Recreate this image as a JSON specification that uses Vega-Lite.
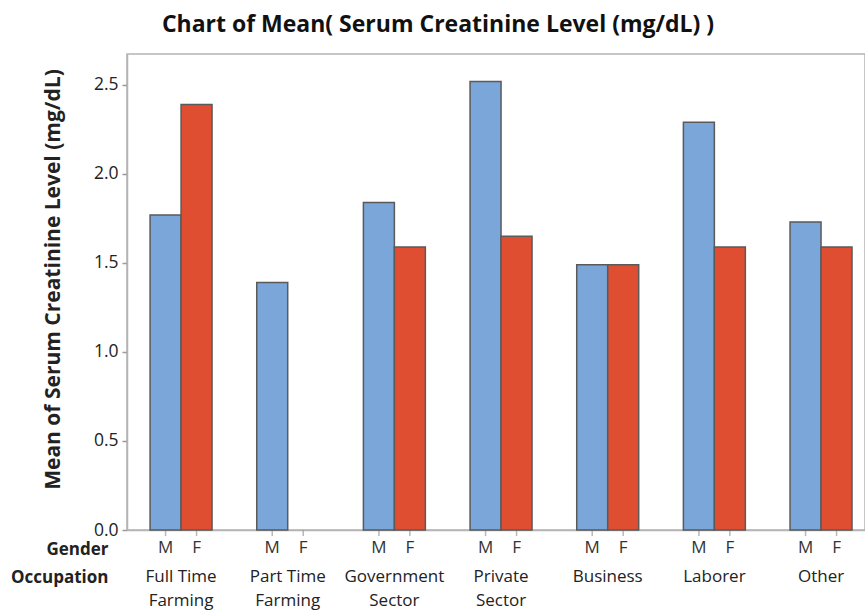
{
  "$schema": "https://vega.github.io/schema/vega-lite/v6.json",
  "width": 738,
  "height": 476,
  "autosize": {"type": "none"},
  "padding": {"left": 127, "top": 54, "right": 0, "bottom": 82},
  "background": "white",
  "title": {
    "text": "Chart of Mean( Serum Creatinine Level (mg/dL) )",
    "font": "Open Sans",
    "fontSize": 23,
    "fontWeight": "bold",
    "color": "#111111",
    "anchor": "middle",
    "dx": -58,
    "offset": 17
  },
  "config": {
    "view": {"stroke": "#b4b4b4", "strokeWidth": 1.5},
    "font": "Open Sans",
    "axis": {"grid": false}
  },
  "data": {
    "values": [
      {"occupation": "Full Time|Farming", "gender": "M", "mean": 1.77},
      {"occupation": "Full Time|Farming", "gender": "F", "mean": 2.39},
      {"occupation": "Part Time|Farming", "gender": "M", "mean": 1.39},
      {"occupation": "Part Time|Farming", "gender": "F", "mean": null},
      {"occupation": "Government|Sector", "gender": "M", "mean": 1.84},
      {"occupation": "Government|Sector", "gender": "F", "mean": 1.59},
      {"occupation": "Private|Sector", "gender": "M", "mean": 2.52},
      {"occupation": "Private|Sector", "gender": "F", "mean": 1.65},
      {"occupation": "Business", "gender": "M", "mean": 1.49},
      {"occupation": "Business", "gender": "F", "mean": 1.49},
      {"occupation": "Laborer", "gender": "M", "mean": 2.29},
      {"occupation": "Laborer", "gender": "F", "mean": 1.59},
      {"occupation": "Other", "gender": "M", "mean": 1.73},
      {"occupation": "Other", "gender": "F", "mean": 1.59}
    ]
  },
  "resolve": {"axis": {"x": "independent"}},
  "layer": [
    {
      "mark": {"type": "tick", "orient": "vertical", "size": 6, "thickness": 1.5, "yOffset": 3, "color": "#9a9a9a"},
      "encoding": {
        "x": {
          "field": "occupation", "type": "nominal", "sort": null,
          "scale": {"paddingInner": 0.419, "paddingOuter": 0.169, "align": 0.64},
          "axis": {
            "orient": "bottom",
            "title": "Gender", "labels": false, "ticks": false, "domain": false,
            "titleX": -19, "titleY": 19.5, "titleAlign": "right", "titleBaseline": "middle", "titleAngle": 0,
            "titleFont": "Open Sans", "titleFontSize": 17, "titleFontWeight": "bold", "titleColor": "#222222"
          }
        },
        "xOffset": {"field": "gender", "type": "nominal", "sort": ["M", "F"], "scale": {"paddingInner": 0, "paddingOuter": 0}},
        "y": {"datum": 0, "type": "quantitative"}
      }
    },
    {
      "mark": {"type": "bar", "stroke": "#5a5a5a", "strokeWidth": 1.5},
      "encoding": {
        "x": {
          "field": "occupation", "type": "nominal", "sort": null,
          "scale": {"paddingInner": 0.419, "paddingOuter": 0.169, "align": 0.64},
          "axis": {
            "orient": "bottom",
            "title": "Occupation", "ticks": false, "domainColor": "#b4b4b4", "domainWidth": 1.5,
            "labelAngle": 0, "labelPadding": 38, "labelFontSize": 17, "labelColor": "#222222",
            "labelLineHeight": 24, "labelBaseline": "top",
            "labelExpr": "split(datum.label, '|')",
            "titleX": -19, "titleY": 47, "titleAlign": "right", "titleBaseline": "middle", "titleAngle": 0,
            "titleFont": "Open Sans", "titleFontSize": 17, "titleFontWeight": "bold", "titleColor": "#222222"
          }
        },
        "xOffset": {"field": "gender", "type": "nominal", "sort": ["M", "F"], "scale": {"paddingInner": 0, "paddingOuter": 0}},
        "y": {
          "field": "mean", "type": "quantitative",
          "scale": {"domain": [0, 2.674], "nice": false},
          "axis": {
            "title": "Mean of Serum Creatinine Level (mg/dL)",
            "titleFontSize": 21, "titleFontWeight": "bold", "titleColor": "#222222", "titlePadding": 30,
            "titleY": 225,
            "values": [0, 0.5, 1, 1.5, 2, 2.5], "format": ".1f",
            "labelFontSize": 17.5, "labelColor": "#222222", "labelPadding": 4,
            "tickSize": 5, "tickColor": "#9a9a9a", "tickWidth": 1.5,
            "domainColor": "#b4b4b4", "domainWidth": 1.5
          }
        },
        "color": {
          "field": "gender", "type": "nominal",
          "scale": {"domain": ["M", "F"], "range": ["#7BA6D9", "#E04E31"]},
          "legend": null
        }
      }
    },
    {
      "mark": {"type": "text", "dy": 18, "fontSize": 17, "color": "#333333", "baseline": "middle"},
      "encoding": {
        "x": {
          "field": "occupation", "type": "nominal", "sort": null,
          "scale": {"paddingInner": 0.419, "paddingOuter": 0.169, "align": 0.64},
          "axis": null
        },
        "xOffset": {"field": "gender", "type": "nominal", "sort": ["M", "F"], "scale": {"paddingInner": 0, "paddingOuter": 0}},
        "y": {"datum": 0, "type": "quantitative"},
        "text": {"field": "gender"}
      }
    }
  ]
}
